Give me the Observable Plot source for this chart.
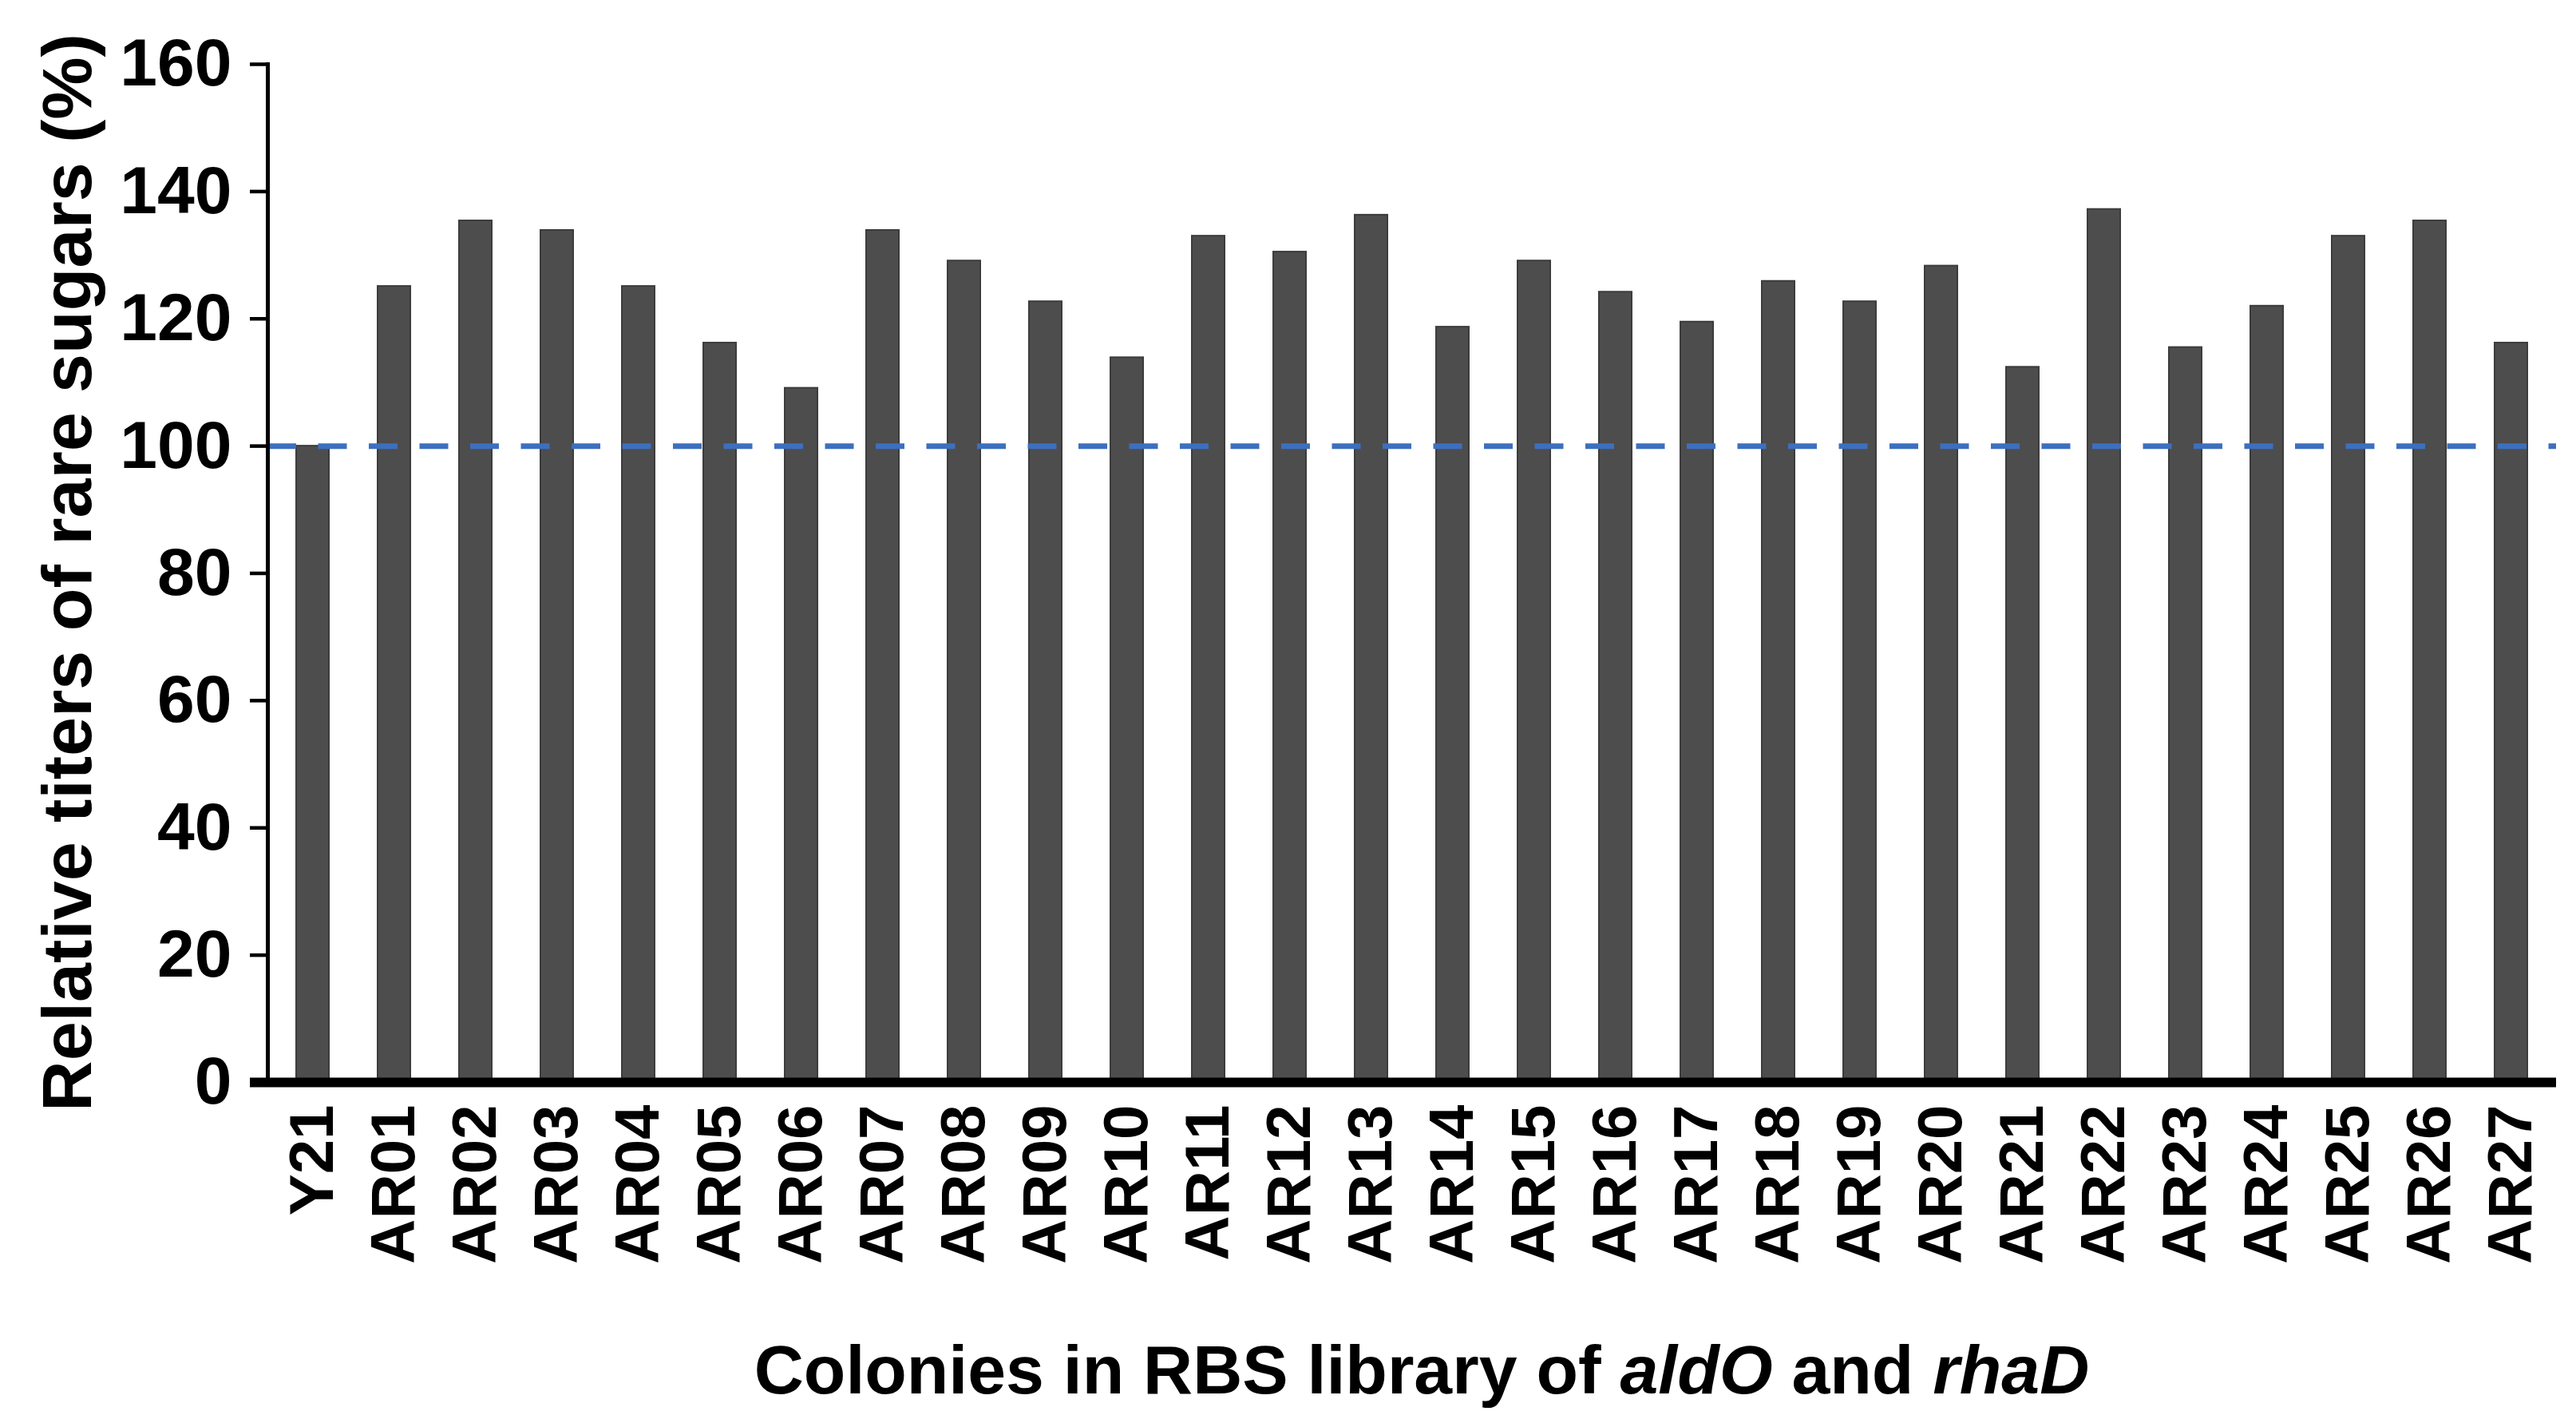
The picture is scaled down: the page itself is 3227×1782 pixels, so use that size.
<!DOCTYPE html>
<html>
<head>
<meta charset="utf-8">
<script src="https://cdn.jsdelivr.net/npm/d3@7"></script>
<script src="https://cdn.jsdelivr.net/npm/@observablehq/plot@0.6"></script>
<style>
  html, body { margin: 0; padding: 0; background: #ffffff; overflow: hidden; }
  #chart svg { display: block; }
</style>
</head>
<body>
<div id="chart"></div>
<script>
// ---- data ----
const colonies = ["Y21","AR01","AR02","AR03","AR04","AR05","AR06","AR07","AR08","AR09","AR10",
  "AR11","AR12","AR13","AR14","AR15","AR16","AR17","AR18","AR19","AR20",
  "AR21","AR22","AR23","AR24","AR25","AR26","AR27"];
const titers = [100,125.1,135.4,133.9,125.1,116.2,109.1,133.9,129.1,122.7,113.9,
  133.0,130.5,136.3,118.7,129.1,124.2,119.5,125.9,122.7,128.3,
  112.4,137.2,115.5,122.0,133.0,135.4,116.2];
const yTicks = [0,20,40,60,80,100,120,140,160];
const referenceLevel = [100];
const yTitle = "Relative titers of rare sugars (%)";
const xTitleParts = [
  {text: "Colonies in RBS library of ", italic: false},
  {text: "aldO", italic: true},
  {text: " and ", italic: false},
  {text: "rhaD", italic: true}
];

const data = colonies.map((c, i) => ({colony: c, value: titers[i]}));

const W = 3227, H = 1782;
const font = "'Liberation Sans', Arial, Helvetica, sans-serif";

const chart = Plot.plot({
  width: W,
  height: H,
  marginLeft: 335,
  marginRight: 25,
  marginTop: 80,
  marginBottom: 427,
  style: {fontFamily: font, background: "#ffffff", color: "#000000"},
  x: {type: "band", domain: colonies, paddingInner: 0.6, paddingOuter: 0.3, label: null},
  y: {domain: [0, 160], label: null},
  marks: [
    Plot.barY(data, {x: "colony", y: "value", fill: "#4d4d4d", stroke: "#3c3c3c", strokeWidth: 2}),
    Plot.ruleY(referenceLevel, {stroke: "#3d6fc0", strokeWidth: 7, strokeDasharray: "36,27.5"}),
    Plot.frame({anchor: "left", stroke: "#000000", strokeWidth: 5}),
    Plot.ruleY([0], {stroke: "#000000", strokeWidth: 12}),
    Plot.axisY({ticks: yTicks, tickSize: 22, tickPadding: 23, fontSize: 84, fontWeight: "bold",
      strokeWidth: 4.5, label: null}),
    Plot.axisY({ticks: [0], tickSize: 22, strokeWidth: 12, tickFormat: () => "", label: null}),
    Plot.axisX({tickRotate: -90, tickSize: 0, tickPadding: 28, fontSize: 78, fontWeight: "bold", label: null})
  ]
});

document.getElementById("chart").appendChild(chart);

// axis titles
const svg = d3.select(chart);
svg.append("text")
  .attr("transform", "translate(114,717) rotate(-90)")
  .attr("text-anchor", "middle")
  .attr("font-family", font)
  .attr("font-size", 88)
  .attr("font-weight", "bold")
  .attr("fill", "#000000")
  .text(yTitle);

const xt = svg.append("text")
  .attr("x", 1781)
  .attr("y", 1745)
  .attr("text-anchor", "middle")
  .attr("font-family", font)
  .attr("font-size", 86)
  .attr("font-weight", "bold")
  .attr("fill", "#000000");
xTitleParts.forEach(p => {
  xt.append("tspan").attr("font-style", p.italic ? "italic" : "normal").text(p.text);
});
</script>
</body>
</html>
